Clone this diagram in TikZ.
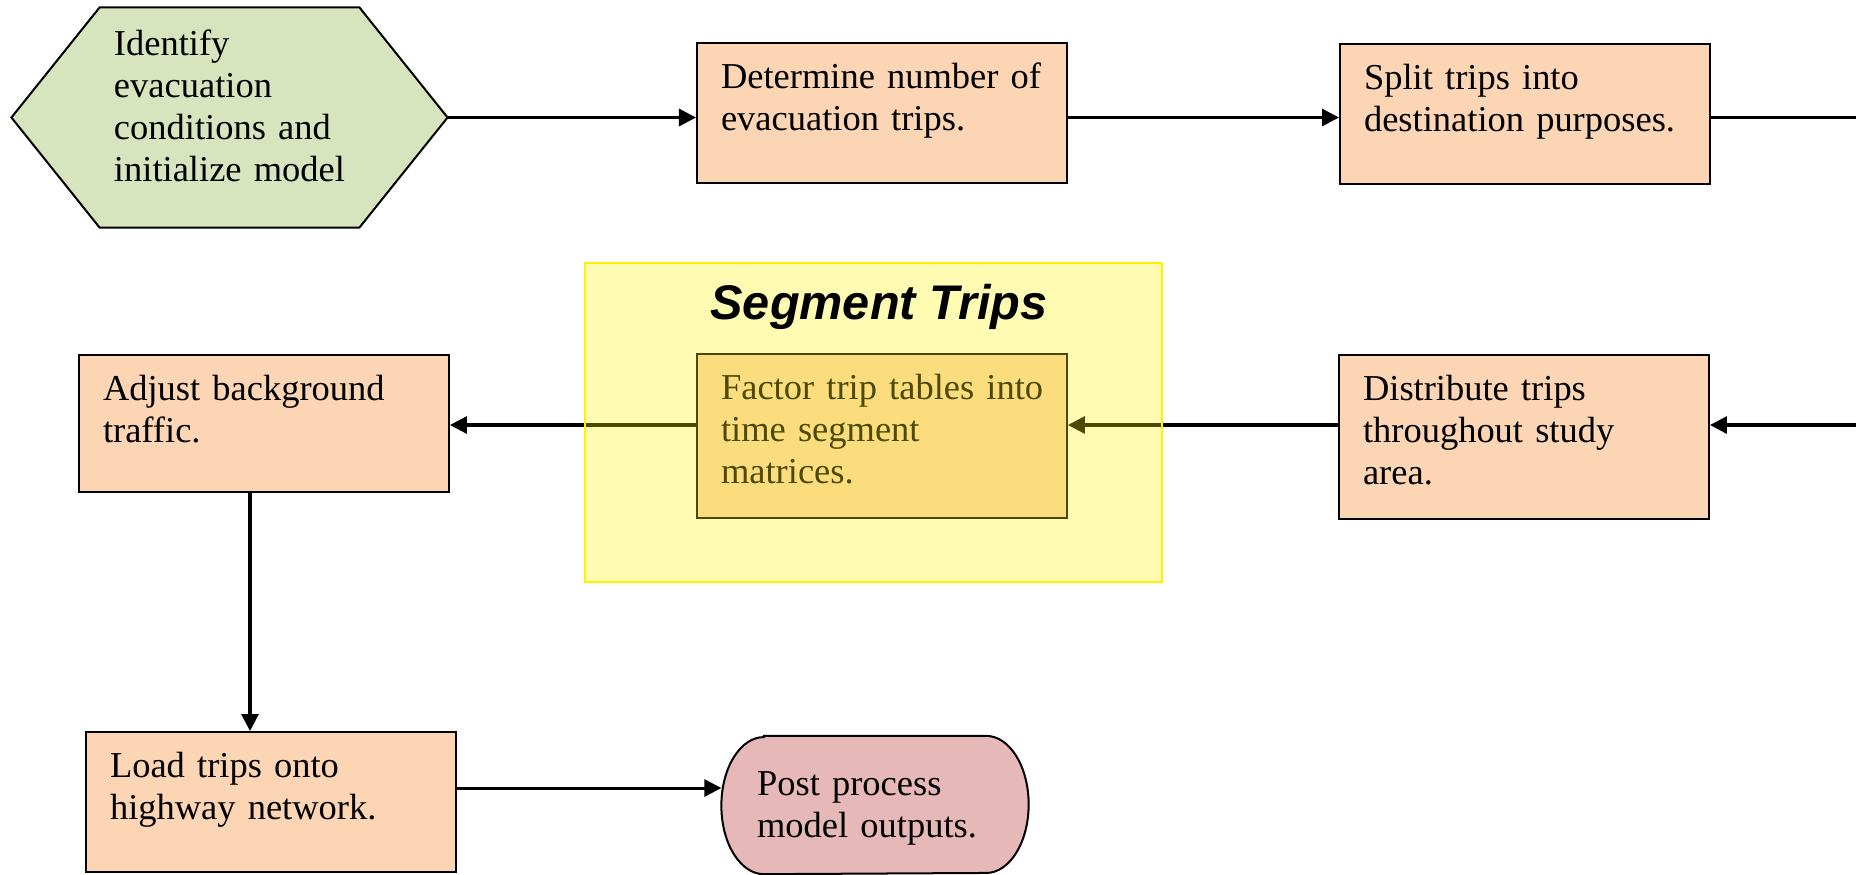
\documentclass[tikz,border=0pt]{standalone}
\usepackage{fontspec}
\setmainfont{Liberation Serif}
\newfontfamily\headfont{Liberation Sans}
\usetikzlibrary{arrows.meta,backgrounds}

\definecolor{initgreen}{HTML}{D7E4BD}
\definecolor{stepfill}{HTML}{FCD5B5}
\definecolor{endfill}{HTML}{E6B9B8}

\tikzset{
  stepbox/.style={draw, fill=stepfill, line width=0.66pt, anchor=north west,
    inner xsep=7.9pt, inner ysep=0pt, text width=105.9pt, align=left,
    text height=15pt, text depth=31.1pt},
  tallbox/.style={stepbox, text depth=39pt},
  flow/.style={line width=1pt},
}

\begin{document}
\begin{tikzpicture}[x=0.329pt,y=-0.329pt,font=\fontsize{12pt}{13.8pt}\selectfont,
    >={Triangle[length=5.6pt,width=5.6pt]}]
    \useasboundingbox (0,0) rectangle (1856,874);

    % start, steps and end
    \node[minimum width=143.1pt, minimum height=72pt, inner sep=0pt, text width=76pt,
      align=left, text height=11.9pt, text depth=52.9pt] (init) at (229.5,117.5)
      {Identify\\evacuation\\conditions and\\initialize model};
    \node[stepbox] (det) at (696,42) {\mbox{Determine number of}\\evacuation trips.};
    \node[stepbox] (split) at (1339,43) {Split trips into\\\mbox{destination purposes.}};
    \node[tallbox] (dist) at (1338,354) {Distribute trips\\throughout study\\area.};
    \node[tallbox] (factor) at (696,353) {\mbox{Factor trip tables into}\\time segment\\matrices.};
    \node[stepbox, text depth=30.1pt] (adj) at (78,354) {Adjust background\\traffic.};
    \node[stepbox] (load) at (85,731) {Load trips onto\\highway network.};
    \node[minimum width=100.7pt, minimum height=45.1pt, inner sep=0pt, text width=77.6pt,
      align=left, text height=10pt, text depth=16pt] (post) at (875,805) {Post process\\model outputs.};

    \begin{scope}[on background layer]
      \filldraw[fill=initgreen, line width=0.66pt] (init.west) -- ([xshift=29pt]init.north west)
        -- ([xshift=-29pt]init.north east) -- (init.east) -- ([xshift=-29pt]init.south east)
        -- ([xshift=29pt]init.south west) -- cycle;
      \filldraw[fill=endfill, line width=0.66pt] ([xshift=14pt]post.north west)
        -- ([xshift=-14pt]post.north east) arc[start angle=90, end angle=-90, x radius=14pt, y radius=22.55pt]
        -- ([xshift=14pt]post.south west) arc[start angle=270, end angle=90, x radius=14pt, y radius=22.55pt]
        -- cycle;
    \end{scope}

    \coordinate (out1) at (1856,117.5);
    \coordinate (in2) at (1856,425);
    \coordinate (col) at (250,600);
    \coordinate (row3) at (600,788);

    \draw[flow,->] (init.east) -- (init.east -| det.west);
    \draw[flow,->] (det.east |- init.east) -- (split.west |- init.east);
    \draw[flow] (split.east |- init.east) -- (out1);
    \draw[flow,->] (in2) -- (in2 -| dist.east);
    \draw[flow,->] (dist.west |- in2) -- (factor.east |- in2);
    \draw[flow,->] (factor.west |- in2) -- (adj.east |- in2);
    \draw[flow,->] (adj.south -| col) -- (load.north -| col);
    \draw[flow,->] (load.east |- row3) -- (post.west |- row3);

    % segment group laid over the middle step
    \node[draw=yellow, fill=yellow, fill opacity=0.3, line width=0.66pt,
      minimum width=189.8pt, minimum height=105pt, inner sep=0pt] (seg) at (873.5,422.5) {};
    \node[anchor=base, font=\headfont\bfseries\itshape\fontsize{16pt}{19pt}\selectfont]
      (segtitle) at (879,319) {Segment Trips};
\end{tikzpicture}
\end{document}
